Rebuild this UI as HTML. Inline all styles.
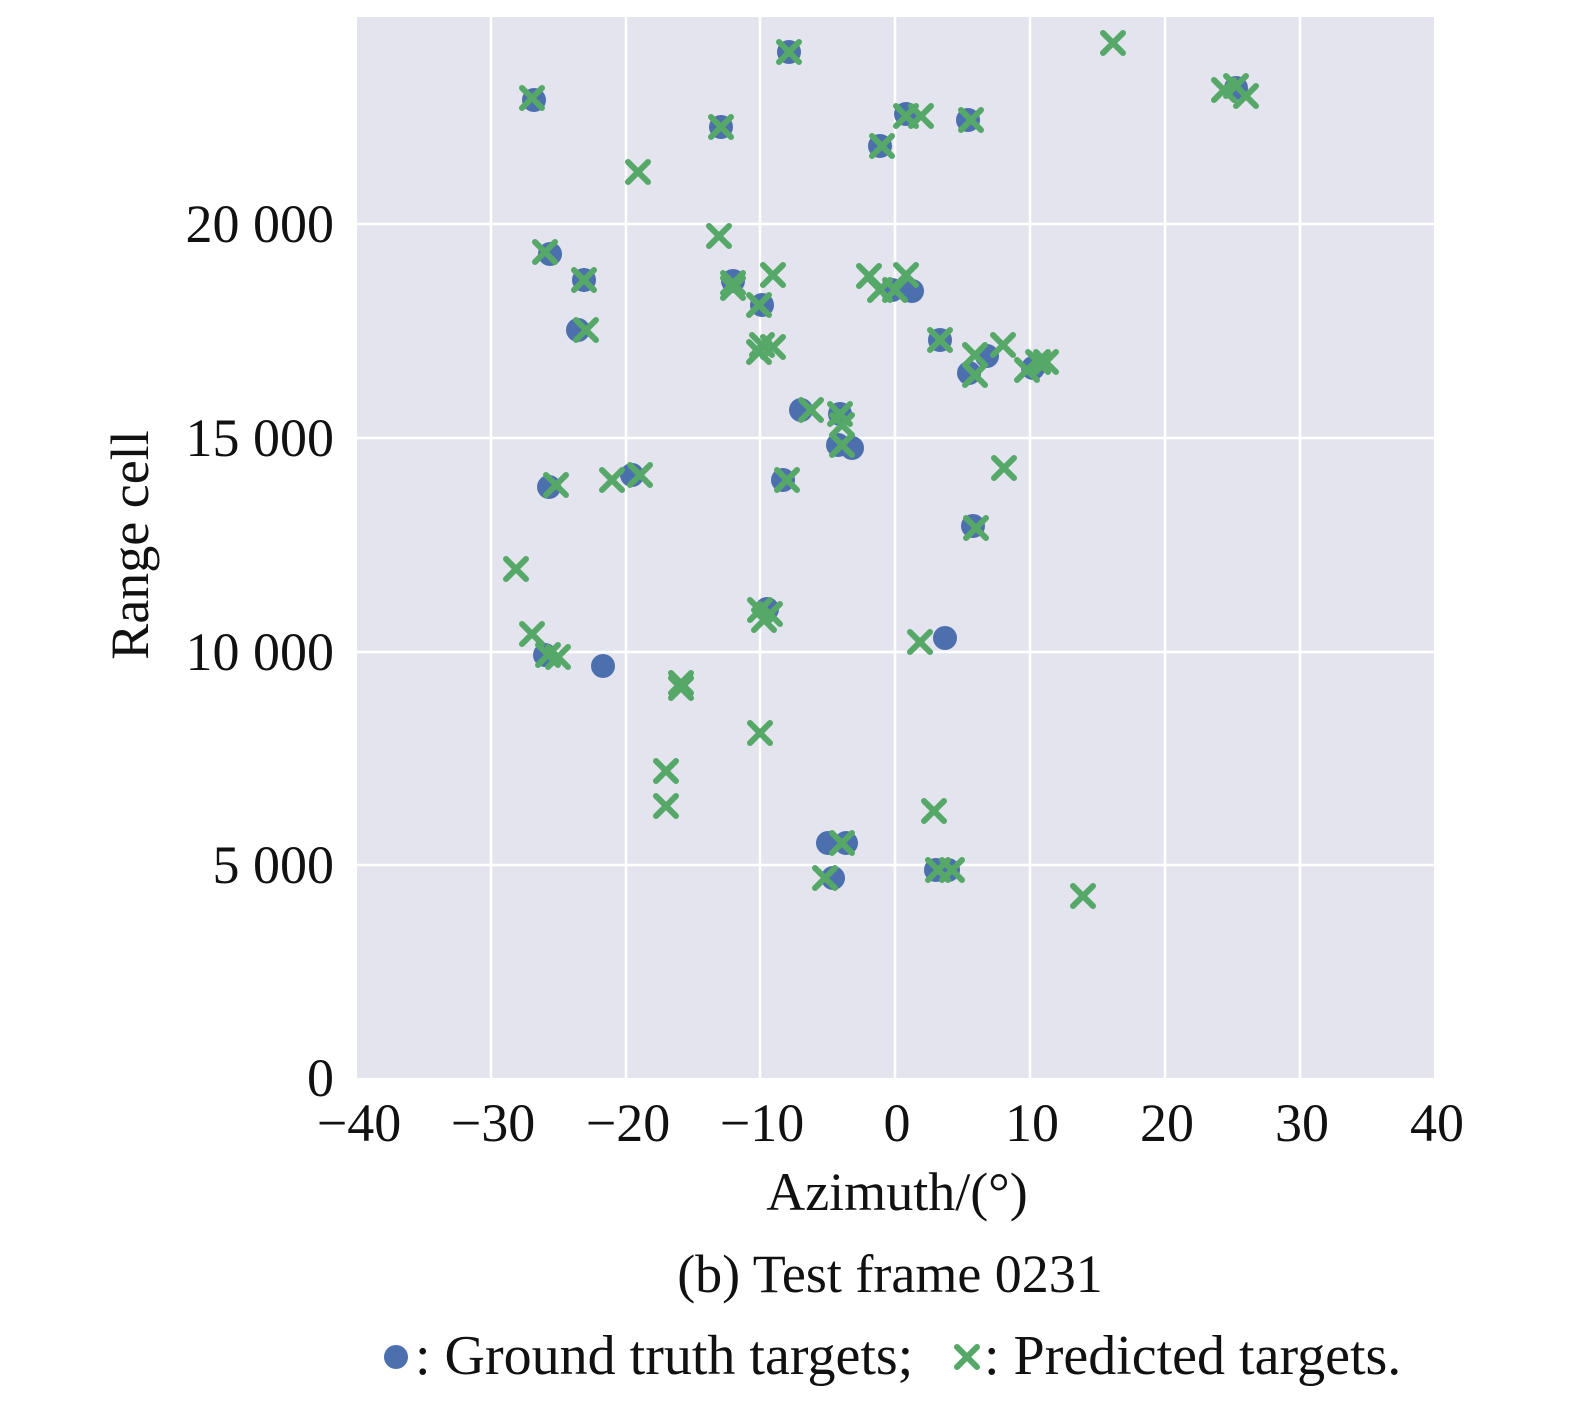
<!DOCTYPE html>
<html><head><style>
body{margin:0;background:#fff;width:1575px;height:1400px;overflow:hidden}
</style></head><body>
<svg width="1575" height="1400" xmlns="http://www.w3.org/2000/svg" font-family="Liberation Serif, serif">
<defs>
<g id="x"><path d="M-10,-10L10,10M-10,10L10,-10" stroke="#55a868" stroke-width="6" stroke-linecap="round"/></g>
</defs>
<rect x="357" y="17" width="1077" height="1061" fill="#e4e4ee"/>
<g stroke="#fff" stroke-width="2.5">
<line x1="491" y1="17" x2="491" y2="1078"/><line x1="626" y1="17" x2="626" y2="1078"/>
<line x1="760" y1="17" x2="760" y2="1078"/><line x1="895" y1="17" x2="895" y2="1078"/>
<line x1="1030" y1="17" x2="1030" y2="1078"/><line x1="1165" y1="17" x2="1165" y2="1078"/>
<line x1="1300" y1="17" x2="1300" y2="1078"/>
<line x1="357" y1="865" x2="1434" y2="865"/><line x1="357" y1="652" x2="1434" y2="652"/>
<line x1="357" y1="438" x2="1434" y2="438"/><line x1="357" y1="224" x2="1434" y2="224"/>
</g>
<g fill="#4c6fae">
<circle cx="534" cy="100" r="12"/><circle cx="789" cy="52" r="12"/><circle cx="721" cy="127" r="12"/><circle cx="880" cy="146" r="12"/><circle cx="906" cy="114" r="12"/><circle cx="968" cy="120" r="12"/><circle cx="550" cy="254" r="12"/><circle cx="584" cy="280" r="12"/><circle cx="578" cy="330" r="12"/><circle cx="733" cy="281" r="12"/><circle cx="762" cy="305" r="12"/><circle cx="892" cy="290" r="12"/><circle cx="912" cy="291" r="12"/><circle cx="940" cy="340" r="12"/><circle cx="969" cy="373" r="12"/><circle cx="987" cy="356" r="12"/><circle cx="1033" cy="368" r="12"/><circle cx="801" cy="410" r="12"/><circle cx="840" cy="414" r="12"/><circle cx="838" cy="445" r="12"/><circle cx="852" cy="448" r="12"/><circle cx="632" cy="475" r="12"/><circle cx="549" cy="487" r="12"/><circle cx="783" cy="480" r="12"/><circle cx="973" cy="526" r="12"/><circle cx="767" cy="609" r="12"/><circle cx="945" cy="638" r="12"/><circle cx="603" cy="666" r="12"/><circle cx="545" cy="655" r="12"/><circle cx="828" cy="843" r="12"/><circle cx="846" cy="843" r="12"/><circle cx="833" cy="878" r="12"/><circle cx="936" cy="870" r="12"/><circle cx="948" cy="870" r="12"/><circle cx="1236" cy="88" r="12"/>
</g>
<g>
<use href="#x" x="532" y="98"/><use href="#x" x="789" y="52"/><use href="#x" x="1113" y="43"/><use href="#x" x="1236" y="86"/><use href="#x" x="1246" y="96"/><use href="#x" x="1224" y="90"/><use href="#x" x="721" y="127"/><use href="#x" x="638" y="172"/><use href="#x" x="882" y="146"/><use href="#x" x="921" y="116"/><use href="#x" x="906" y="116"/><use href="#x" x="971" y="120"/><use href="#x" x="719" y="236"/><use href="#x" x="545" y="252"/><use href="#x" x="584" y="280"/><use href="#x" x="586" y="330"/><use href="#x" x="733" y="283"/><use href="#x" x="733" y="288"/><use href="#x" x="773" y="275"/><use href="#x" x="759" y="305"/><use href="#x" x="869" y="276"/><use href="#x" x="906" y="275"/><use href="#x" x="895" y="290"/><use href="#x" x="880" y="290"/><use href="#x" x="940" y="340"/><use href="#x" x="975" y="375"/><use href="#x" x="975" y="355"/><use href="#x" x="1003" y="345"/><use href="#x" x="1038" y="362"/><use href="#x" x="1046" y="362"/><use href="#x" x="1027" y="370"/><use href="#x" x="759" y="352"/><use href="#x" x="773" y="347"/><use href="#x" x="762" y="345"/><use href="#x" x="811" y="410"/><use href="#x" x="840" y="414"/><use href="#x" x="842" y="425"/><use href="#x" x="842" y="445"/><use href="#x" x="612" y="480"/><use href="#x" x="640" y="475"/><use href="#x" x="556" y="485"/><use href="#x" x="787" y="480"/><use href="#x" x="1004" y="468"/><use href="#x" x="976" y="528"/><use href="#x" x="516" y="569"/><use href="#x" x="532" y="634"/><use href="#x" x="548" y="655"/><use href="#x" x="558" y="657"/><use href="#x" x="760" y="610"/><use href="#x" x="770" y="614"/><use href="#x" x="764" y="620"/><use href="#x" x="920" y="642"/><use href="#x" x="681" y="683"/><use href="#x" x="681" y="688"/><use href="#x" x="760" y="733"/><use href="#x" x="666" y="771"/><use href="#x" x="666" y="806"/><use href="#x" x="934" y="811"/><use href="#x" x="842" y="843"/><use href="#x" x="825" y="878"/><use href="#x" x="938" y="870"/><use href="#x" x="952" y="870"/><use href="#x" x="1083" y="896"/>
</g>
<g font-size="54" fill="#111" text-anchor="end">
<text x="334" y="1096">0</text><text x="334" y="883">5 000</text><text x="334" y="670">10 000</text>
<text x="334" y="456">15 000</text><text x="334" y="242">20 000</text>
</g>
<g font-size="54" fill="#111" text-anchor="middle">
<text x="359" y="1141">−40</text><text x="493" y="1141">−30</text><text x="628" y="1141">−20</text><text x="762" y="1141">−10</text>
<text x="897" y="1141">0</text><text x="1032" y="1141">10</text><text x="1167" y="1141">20</text><text x="1302" y="1141">30</text><text x="1437" y="1141">40</text>
<text x="897" y="1210">Azimuth/(°)</text>
<text x="890" y="1292">(b) Test frame 0231</text>
</g>
<text transform="translate(148,545) rotate(-90)" font-size="54" fill="#111" text-anchor="middle">Range cell</text>
<circle cx="396" cy="1357" r="12" fill="#4c6fae"/>
<use href="#x" x="967" y="1357"/>
<text x="415" y="1374" font-size="56" fill="#111">: Ground truth targets;</text>
<text x="984" y="1374" font-size="56" fill="#111">: Predicted targets.</text>
</svg>
</body></html>
